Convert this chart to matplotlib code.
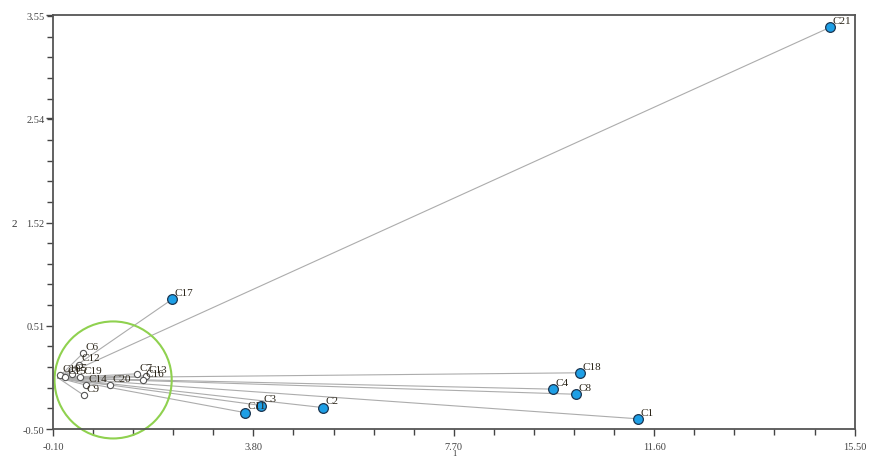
import matplotlib
matplotlib.use('Agg')
import matplotlib.pyplot as plt
from matplotlib.patches import Ellipse
from matplotlib.ticker import AutoMinorLocator

# coordenadas de los casos (ejes 1 y 2)
etiquetas_lejos = ['C21', 'C17', 'C18', 'C4', 'C8', 'C1', 'C2', 'C3', 'C11']
x_lejos = [15.02, 2.22, 10.15, 9.63, 10.08, 11.28, 5.15, 3.95, 3.64]
y_lejos = [3.43, 0.77, 0.05, -0.11, -0.16, -0.40, -0.29, -0.27, -0.34]

etiquetas_cerca = ['C10', 'C15', 'C5', 'C19', 'C6', 'C12', 'C14', 'C9', 'C20', 'C7', 'C13', 'C16']
x_cerca = [0.04, 0.13, 0.27, 0.43, 0.48, 0.41, 0.54, 0.50, 1.01, 1.53, 1.71, 1.65]
y_cerca = [0.03, 0.01, 0.04, 0.01, 0.24, 0.13, -0.07, -0.17, -0.07, 0.04, 0.02, -0.02]

xticks = [-0.10, 3.80, 7.70, 11.60, 15.50]
yticks = [-0.50, 0.51, 1.52, 2.54, 3.55]

plt.rcParams['font.family'] = ['Liberation Serif', 'DejaVu Serif']

fig = plt.figure(figsize=(8.73, 4.60), dpi=100)
ax = fig.add_axes([0.0607, 0.0652, 0.9183, 0.8998])

# vectores desde el origen
for x, y in zip(x_lejos + x_cerca, y_lejos + y_cerca):
    ax.plot([0, x], [0, y], color='#acacac', lw=0.8, zorder=1)

ax.plot(x_lejos, y_lejos, 'o', ms=7, mfc='#1e9fe6', mec='#1b3550', mew=0.9, zorder=3)
ax.plot(x_cerca, y_cerca, 'o', ms=4.5, mfc='white', mec='#555555', mew=0.8, zorder=3)

for t, x, y in zip(etiquetas_lejos + etiquetas_cerca, x_lejos + x_cerca, y_lejos + y_cerca):
    ax.annotate(t, (x, y), xytext=(2, 3), textcoords='offset points',
                fontsize=8, color='#2a2418', zorder=4)

# circulo verde alrededor del grupo
ax.add_patch(Ellipse((1.07, -0.02), 2.28, 1.145, fill=False, ec='#8fd14f',
                     lw=1.5, clip_on=False, zorder=2))

ax.set_xlim(-0.10, 15.50)
ax.set_ylim(-0.50, 3.55)
ax.set_xticks(xticks)
ax.set_yticks(yticks)
ax.set_xticklabels(['%.2f' % v for v in xticks])
ax.set_yticklabels(['%.2f' % v for v in yticks])
ax.xaxis.set_minor_locator(AutoMinorLocator(5))
ax.yaxis.set_minor_locator(AutoMinorLocator(5))
ax.tick_params(which='both', direction='out', colors='#444444', labelsize=7.5,
               labelcolor='#444444', width=1)
ax.tick_params(which='major', length=5)
ax.tick_params(which='minor', length=4)
ax.tick_params(axis='y', pad=1)
ax.tick_params(axis='x', pad=4)
for s in ax.spines.values():
    s.set_color('#555555')
    s.set_linewidth(1.3)

fig.text(0.016, 0.513, '2', fontsize=8, color='#333333', ha='center', va='center')
fig.text(0.521, 0.012, '1', fontsize=6, color='#333333', ha='center', va='center')

fig.savefig('out.png', dpi=100, facecolor='white')
